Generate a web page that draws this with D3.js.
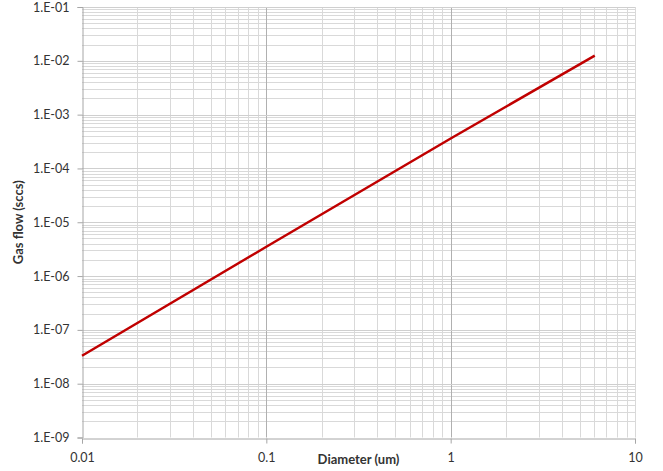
<!DOCTYPE html>
<html>
<head>
<meta charset="utf-8">
<script src="https://cdn.jsdelivr.net/npm/d3@7"></script>
<style>
  body { margin: 0; background: #fff; }
  svg { display: block; }
  text { font-family: Lato, "Open Sans", "Liberation Sans", sans-serif; fill: #333; }
</style>
</head>
<body>
<svg id="chart" width="663" height="471"></svg>
<script>
// Data (diameter in um, gas flow in sccs)
const diameters = [0.01, 0.1, 1, 6.05];
const gasFlow = [3.3e-8, 3.5e-6, 3.6e-4, 1.25e-2];
const xTickValues = [0.01, 0.1, 1, 10];
const xTickLabels = ["0.01", "0.1", "1", "10"];
const yTickValues = [1e-9, 1e-8, 1e-7, 1e-6, 1e-5, 1e-4, 1e-3, 1e-2, 1e-1];
const yTickLabels = ["1.E-09", "1.E-08", "1.E-07", "1.E-06", "1.E-05", "1.E-04", "1.E-03", "1.E-02", "1.E-01"];
const xTitle = "Diameter (um)";
const yTitle = "Gas flow (sccs)";

const svg = d3.select("#chart");
const margin = {left: 82, right: 28, top: 7, bottom: 33.5};
const W = 663, H = 471;

const x = d3.scaleLog().domain([0.01, 10]).range([margin.left, W - margin.right]);
const y = d3.scaleLog().domain([1e-9, 1e-1]).range([H - margin.bottom, margin.top]);

// minor values
const xMinor = [];
for (let e = -2; e < 1; e++) for (let m = 2; m <= 9; m++) xMinor.push(m * Math.pow(10, e));
const yMinor = [];
for (let e = -9; e < -1; e++) for (let m = 2; m <= 9; m++) yMinor.push(m * Math.pow(10, e));

const grid = svg.append("g");
grid.selectAll(".vminor").data(xMinor).enter().append("line")
  .attr("x1", d => Math.round(x(d)) + 0.5).attr("x2", d => Math.round(x(d)) + 0.5)
  .attr("y1", y(1e-1)).attr("y2", y(1e-9))
  .attr("stroke", "#d9d9d9").attr("stroke-width", 1);
grid.selectAll(".hminor").data(yMinor).enter().append("line")
  .attr("y1", d => Math.round(y(d)) + 0.5).attr("y2", d => Math.round(y(d)) + 0.5)
  .attr("x1", x(0.01)).attr("x2", x(10))
  .attr("stroke", "#d9d9d9").attr("stroke-width", 1);
grid.selectAll(".vmajor").data(xTickValues.slice(1)).enter().append("line")
  .attr("x1", d => Math.round(x(d)) + 0.5).attr("x2", d => Math.round(x(d)) + 0.5)
  .attr("y1", y(1e-1)).attr("y2", y(1e-9))
  .attr("stroke", d => d === 10 ? "#d9d9d9" : "#b0b0b0").attr("stroke-width", 1);
grid.selectAll(".hmajor").data(yTickValues.slice(1)).enter().append("line")
  .attr("y1", d => Math.round(y(d)) + 0.5).attr("y2", d => Math.round(y(d)) + 0.5)
  .attr("x1", x(0.01)).attr("x2", x(10))
  .attr("stroke", "#cfcfcf").attr("stroke-width", 1);

// axes
const xAxis = d3.axisBottom(x).tickValues(xTickValues)
  .tickFormat((d, i) => xTickLabels[i]).tickSize(5).tickPadding(10);
const gx = svg.append("g").attr("transform", `translate(0,${Math.round(y(1e-9)) + 0.5})`).call(xAxis);
gx.select(".domain").attr("stroke", "#a6a6a6");
gx.selectAll(".tick line").attr("stroke", "#a6a6a6");
gx.selectAll(".tick text").attr("font-size", 12.5).attr("fill", "#333")
  .attr("font-family", "Lato, 'Open Sans', sans-serif");

const yAxis = d3.axisLeft(y).tickValues(yTickValues)
  .tickFormat((d, i) => yTickLabels[i]).tickSize(5).tickPadding(8);
const gy = svg.append("g").attr("transform", `translate(${Math.round(x(0.01)) + 0.5},0)`).call(yAxis);
gy.select(".domain").attr("stroke", "#a6a6a6");
gy.selectAll(".tick line").attr("stroke", "#a6a6a6");
gy.selectAll(".tick text").attr("font-size", 12.5).attr("fill", "#333")
  .attr("font-family", "Lato, 'Open Sans', sans-serif");

// line
const line = d3.line().x((d, i) => x(diameters[i])).y((d, i) => y(gasFlow[i]));
svg.append("path").datum(gasFlow).attr("d", line)
  .attr("fill", "none").attr("stroke", "#c00000").attr("stroke-width", 2.5);

// titles
svg.append("text").attr("x", (x(0.01) + x(10)) / 2).attr("y", 464)
  .attr("text-anchor", "middle").attr("font-size", 13).attr("font-weight", "bold")
  .text(xTitle);
svg.append("text").attr("transform", `translate(23,${(y(1e-9) + y(1e-1)) / 2}) rotate(-90)`)
  .attr("text-anchor", "middle").attr("font-size", 13).attr("font-weight", "bold")
  .text(yTitle);
</script>
</body>
</html>
